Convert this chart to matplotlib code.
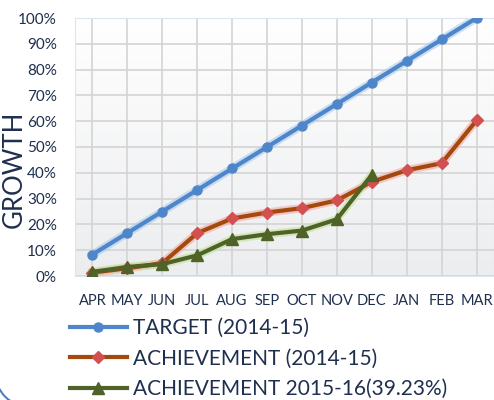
import numpy as np
import matplotlib
matplotlib.use('Agg')
import matplotlib.pyplot as plt
from matplotlib.patches import Arc

plt.rcParams['font.family'] = ['Lato', 'DejaVu Sans']

# dados
meses = ['APR', 'MAY', 'JUN', 'JUL', 'AUG', 'SEP', 'OCT', 'NOV', 'DEC', 'JAN', 'FEB', 'MAR']
target_1415 = [8.33, 16.67, 25.0, 33.33, 41.67, 50.0, 58.33, 66.67, 75.0, 83.33, 91.67, 100.0]
achiev_1415 = [1.3, 3.0, 5.0, 16.6, 22.3, 24.6, 26.3, 29.3, 36.5, 41.0, 43.7, 60.3]
achiev_1516 = [1.6, 3.5, 4.6, 8.0, 14.3, 16.2, 17.6, 22.0, 39.23]

nomes = ['TARGET (2014-15)', 'ACHIEVEMENT (2014-15)', 'ACHIEVEMENT 2015-16(39.23%)']

navy = '#1F2F4F'

fig = plt.figure(figsize=(4.94, 4.0), dpi=100)
ax = fig.add_axes([75 / 494, 1 - 276 / 400, 1 - 75 / 494, 258 / 400])

x = np.arange(len(meses))
x2 = x[:len(achiev_1516)]

# fundo em degrade (branco em cima, cinza claro embaixo)
grad = np.linspace(0, 1, 256).reshape(-1, 1)
cmap = matplotlib.colors.LinearSegmentedColormap.from_list('fundo', ['#ECEDEF', '#FFFFFF'])
ax.imshow(grad, extent=[-0.5, 11.5, 0, 100], origin='lower', aspect='auto', cmap=cmap, zorder=0)

# brilho suave por baixo das linhas
ax.plot(x, target_1415, color='#A9CBF0', lw=6, alpha=0.6, zorder=2)
ax.plot(x, achiev_1415, color='#F2A8A8', lw=6, alpha=0.6, zorder=2)
ax.plot(x2, achiev_1516, color='#C4E39A', lw=6, alpha=0.6, zorder=2)

l1, = ax.plot(x, target_1415, color='#4F86C9', lw=3, marker='o', ms=6.5, zorder=3)
l2, = ax.plot(x, achiev_1415, color='#A4490C', lw=3, marker='D', ms=6.5,
              markerfacecolor='#D2504F', markeredgecolor='#D2504F', zorder=3)
l3, = ax.plot(x2, achiev_1516, color='#4F6228', lw=3, marker='^', ms=8, zorder=4)

ax.set_xlim(-0.5, 11.5)
ax.set_ylim(0, 100)
ax.set_xticks(x)
ax.set_xticklabels(meses)
ax.set_yticks(np.arange(0, 101, 10))
ax.set_yticklabels([f'{v}%' for v in range(0, 101, 10)])
ax.tick_params(length=0, labelcolor=navy)
ax.tick_params(axis='x', pad=13, labelsize=10.5)
ax.tick_params(axis='y', pad=13, labelsize=11)
ax.grid(True, color='#D4D4D4', lw=1.2, zorder=1)
ax.set_axisbelow(True)
for s in ax.spines.values():
    s.set_color('#DDE5EF')

fig.text(14 / 494, 1 - 169 / 400, 'GROWTH', rotation=90, ha='center', va='center',
         fontsize=18.5, color=navy)

fig.legend([l1, l2, l3], nomes, loc='upper left', bbox_to_anchor=(62 / 494, 1 - 310 / 400),
           frameon=False, fontsize=15, labelcolor=navy, handlelength=2.7,
           handletextpad=0.3, labelspacing=0.5, borderaxespad=0)

# canto arredondado da moldura (azul) no canto inferior esquerdo
fig.patches.append(Arc((0.30, 0.28), 0.70, 0.70, theta1=180, theta2=270, color='#4F7FBF', lw=1.5,
                       transform=fig.dpi_scale_trans))

fig.savefig('out.png', dpi=100)
